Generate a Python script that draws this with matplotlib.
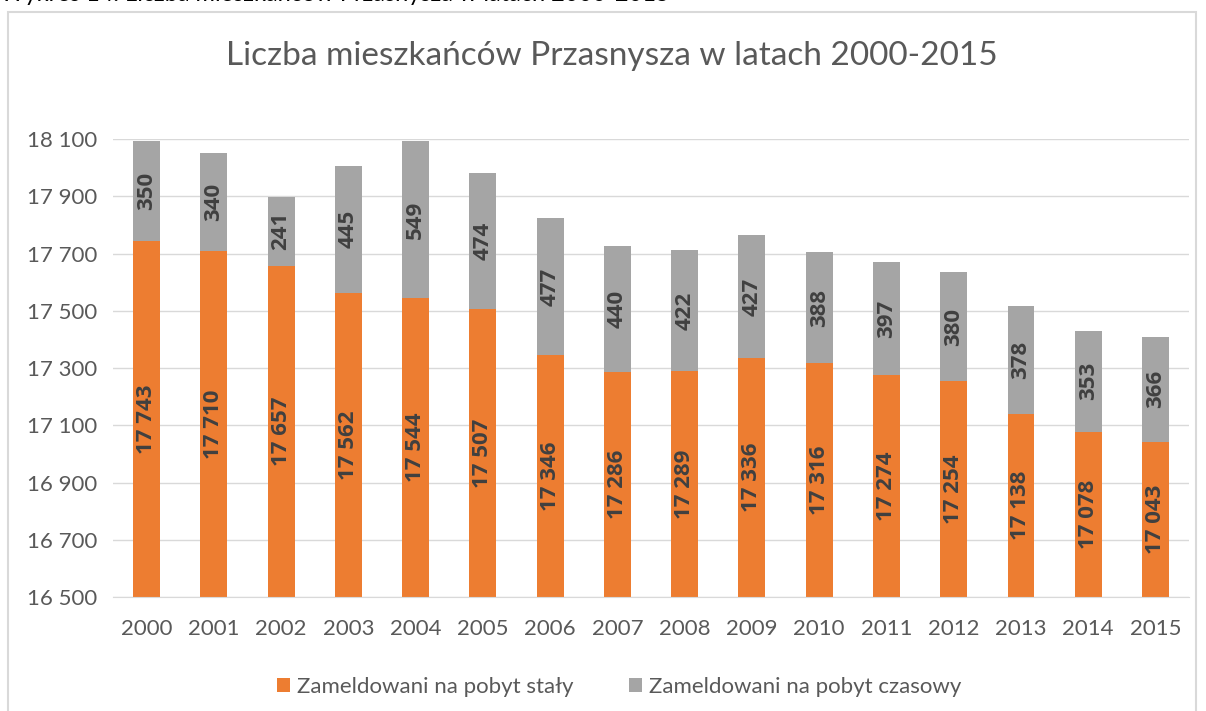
import matplotlib.pyplot as plt
from matplotlib.patches import Rectangle
from matplotlib.ticker import FuncFormatter
import numpy as np

years = [str(y) for y in range(2000, 2016)]
staly = [17743, 17710, 17657, 17562, 17544, 17507, 17346, 17286,
         17289, 17336, 17316, 17274, 17254, 17138, 17078, 17043]
czasowy = [350, 340, 241, 445, 549, 474, 477, 440,
           422, 427, 388, 397, 380, 378, 353, 366]

plt.rcParams['font.family'] = ['Lato', 'DejaVu Sans']

ORANGE = '#ED7D31'
GRAY = '#A5A5A5'
TXT = '#595959'


def fmt(v):
    return '{:,}'.format(int(v)).replace(',', ' ')


fig = plt.figure(figsize=(12.06, 7.11), dpi=100)
ax = fig.add_axes([0.0937, 0.1603, 0.8923, 0.6442])

# chart frame and the cut-off caption above it
fig.patches.append(Rectangle((8 / 1206, -0.1), 1188 / 1206, 1.1 - 12 / 711,
                             transform=fig.transFigure, fill=False,
                             edgecolor='#d9d9d9', linewidth=1.5))
fig.text(0.0, 1 - 1 / 711, 'Wykres 14. Liczba mieszkańców Przasnysza w latach 2000-2015',
         fontsize=17, color='black', va='baseline', ha='left')

x = np.arange(len(years))
w = 0.4
ax.bar(x, staly, w, color=ORANGE, label='Zameldowani na pobyt stały', zorder=2)
ax.bar(x, czasowy, w, bottom=staly, color=GRAY,
       label='Zameldowani na pobyt czasowy', zorder=2)

lab_font = dict(rotation=90, ha='center', va='center', fontsize=16,
                fontweight='bold', color='#404040', zorder=3,
                family=['Open Sans', 'DejaVu Sans'])
for i in range(len(years)):
    ax.text(x[i], (16500 + staly[i]) / 2, fmt(staly[i]), **lab_font)
    ax.text(x[i], staly[i] + czasowy[i] / 2, fmt(czasowy[i]), **lab_font)

ax.set_ylim(16500, 18100)
ax.set_xlim(-0.5, len(years) - 0.5)
ax.set_yticks(np.arange(16500, 18101, 200))
ax.yaxis.set_major_formatter(FuncFormatter(lambda v, p: fmt(v)))
ax.set_xticks(x)
ax.set_xticklabels(years)
ax.tick_params(axis='both', length=0, labelsize=16, labelcolor=TXT)
ax.tick_params(axis='y', pad=11)
ax.tick_params(axis='x', pad=16)
ax.grid(axis='y', color='#d9d9d9', linewidth=1, zorder=0)
for s in ['top', 'right', 'left']:
    ax.spines[s].set_visible(False)
ax.spines['bottom'].set_color('#d9d9d9')

fig.text(612 / 1206, 1 - 56 / 711, 'Liczba mieszkańców Przasnysza w latach 2000-2015',
         fontsize=24, color=TXT, ha='center', va='center')

ax.legend(loc='upper center', bbox_to_anchor=(0.47, -0.13), ncol=2,
          frameon=False, fontsize=16, labelcolor=TXT, handlelength=0.6,
          handleheight=0.6, handletextpad=0.3, columnspacing=2.5)

fig.savefig('out.png', dpi=100)
